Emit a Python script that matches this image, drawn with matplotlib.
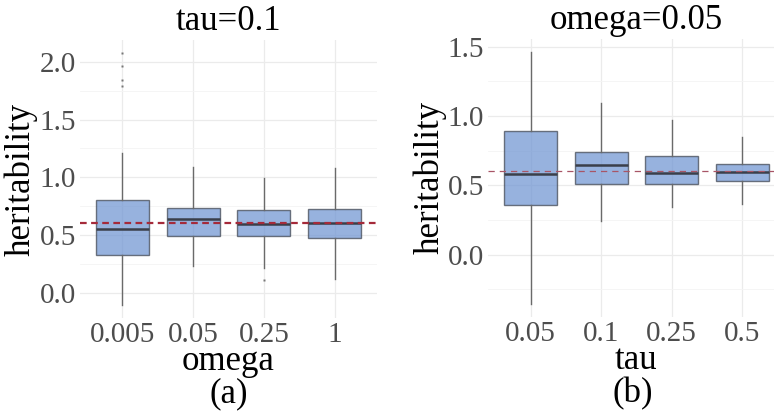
import numpy as np
import matplotlib
matplotlib.use("Agg")
import matplotlib.pyplot as plt

plt.rcParams['font.family'] = ['Liberation Serif', 'DejaVu Serif']

# panel (a): tau = 0.1, varying omega
omega_labels = ["0.005", "0.05", "0.25", "1"]
a_q1 = [0.326, 0.495, 0.495, 0.470]
a_med = [0.549, 0.635, 0.592, 0.604]
a_q3 = [0.807, 0.735, 0.718, 0.727]
a_lo = [-0.109, 0.235, 0.212, 0.120]
a_hi = [1.207, 1.090, 0.996, 1.079]
a_out = [[2.075, 1.968, 1.845, 1.788], [], [0.112], []]

# panel (b): omega = 0.05, varying tau
tau_labels = ["0.05", "0.1", "0.25", "0.5"]
b_q1 = [0.357, 0.507, 0.510, 0.529]
b_med = [0.581, 0.645, 0.588, 0.595]
b_q3 = [0.888, 0.738, 0.710, 0.650]
b_lo = [-0.357, 0.245, 0.345, 0.364]
b_hi = [1.460, 1.090, 0.971, 0.845]
b_out = [[], [], [], []]

true_h = 0.6

fill = '#6F94D2'
grid_major = '#EBEBEB'
grid_minor = '#F4F4F4'
tick_col = '#4D4D4D'


def draw_panel(ax, labels, q1, med, q3, lo, hi, out, ylim, yticks, title, xlab,
               dash_col, dash_lw, dashes):
    stats = []
    for i in range(len(labels)):
        stats.append(dict(q1=q1[i], med=med[i], q3=q3[i], whislo=lo[i], whishi=hi[i], fliers=out[i]))
    pos = np.arange(len(labels))
    ax.bxp(stats, positions=pos, widths=0.75, patch_artist=True, showcaps=False,
           boxprops=dict(facecolor=fill, alpha=0.72, edgecolor='#3f4550', linewidth=1.0),
           medianprops=dict(color='#3a3f4a', linewidth=1.8),
           whiskerprops=dict(color='#6a6a6a', linewidth=1.0),
           flierprops=dict(marker='s', markersize=1.6, markerfacecolor='#777777',
                           markeredgecolor='none'))
    ax.axhline(true_h, color=dash_col, linestyle=(0, dashes), linewidth=dash_lw, zorder=5)

    ax.set_xlim(-0.6, len(labels) - 0.4)
    ax.set_ylim(*ylim)
    ax.set_yticks(yticks)
    ax.set_yticklabels([f"{t:.1f}" for t in yticks])
    minor = [t + 0.25 for t in yticks] + [yticks[0] - 0.25]
    ax.set_yticks([m for m in minor if ylim[0] < m < ylim[1]], minor=True)
    ax.set_xticks(pos)
    ax.set_xticklabels(labels)

    ax.grid(True, which='major', color=grid_major, linewidth=0.9, zorder=0)
    ax.grid(True, which='minor', axis='y', color=grid_minor, linewidth=0.6, zorder=0)
    ax.set_axisbelow(True)
    for s in ax.spines.values():
        s.set_visible(False)
    ax.tick_params(which='both', length=0, labelsize=21, labelcolor=tick_col, pad=3)
    ax.set_title(title, fontsize=25, pad=7)
    ax.set_xlabel(xlab, fontsize=25, labelpad=-2)
    ax.set_ylabel("heritability", fontsize=25, labelpad=1)


fig = plt.figure(figsize=(7.74, 4.11), dpi=100)
ax1 = fig.add_axes([0.1034, 0.2263, 0.3837, 0.6764])
ax2 = fig.add_axes([0.6309, 0.2294, 0.3827, 0.6757])

draw_panel(ax1, omega_labels, a_q1, a_med, a_q3, a_lo, a_hi, a_out,
           (-0.22, 2.19), [0.0, 0.5, 1.0, 1.5, 2.0], "tau=0.1", "omega",
           '#A52A3A', 1.6, (3, 2))
draw_panel(ax2, tau_labels, b_q1, b_med, b_q3, b_lo, b_hi, b_out,
           (-0.448, 1.555), [0.0, 0.5, 1.0, 1.5], "omega=0.05", "tau",
           '#A85566', 0.9, (5, 4))

fig.text(0.296, 0.042, "(a)", fontsize=25, ha='center', va='center')
fig.text(0.817, 0.042, "(b)", fontsize=25, ha='center', va='center')

fig.savefig("out.png", dpi=100)
